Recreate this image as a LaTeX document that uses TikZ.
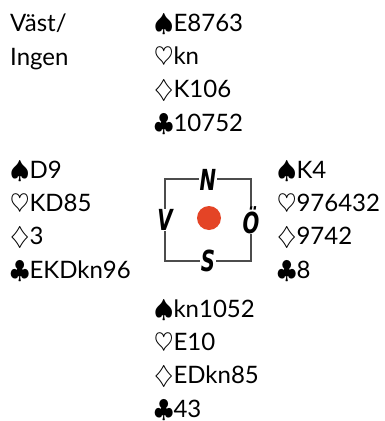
\documentclass[tikz,border=0pt]{standalone}
\usepackage{fontspec}
\setmainfont{Lato}
\newfontfamily\compassfont{DejaVu Sans}
\definecolor{dotred}{RGB}{228,68,38}
\newcommand{\spd}{$\spadesuit$}
\newcommand{\hrt}{$\heartsuit$}
\newcommand{\dmd}{$\diamondsuit$}
\newcommand{\clb}{$\clubsuit$}
\newcommand{\dirtext}[1]{\scalebox{0.68}[1]{#1}}

\begin{document}
\begin{tikzpicture}[x=1pt, y=-1pt,
	hand/.style={anchor=base west, inner sep=0pt, align=left, font={\fontsize{24}{33.4}\selectfont}},
	dir/.style={fill=white, inner sep=0.5pt, font={\compassfont\bfseries\itshape\fontsize{29}{29}\selectfont}},
	boxline/.style={draw=black!70, line width=1.4pt}]
	\useasboundingbox (0,0) rectangle (384,421);
	
	% anchored at the baseline of the last line
	\node[hand] (info) at (10,65) {Väst/\\Ingen};
	\node[hand] (north) at (154,131.2) {\spd E8763\\\hrt kn\\\dmd K106\\\clb 10752};
	\node[hand] (west) at (10,278.2) {\spd D9\\\hrt KD85\\\dmd 3\\\clb EKDkn96};
	\node[hand] (east) at (277,278.2) {\spd K4\\\hrt 976432\\\dmd 9742\\\clb 8};
	\node[hand] (south) at (154,417.2) {\spd kn1052\\\hrt E10\\\dmd EDkn85\\\clb 43};
	
	\draw[boxline] (165,179) rectangle (251,261);
	\fill[dotred] (209,218) circle (12);
	\node[dir] (N) at (208,180) {\dirtext{N}};
	\node[dir] (S) at (208,261) {\dirtext{S}};
	\node[dir] (V) at (165,220) {\dirtext{V}};
	\node[dir] (O) at (251,220) {\dirtext{Ö}};
\end{tikzpicture}
\end{document}
